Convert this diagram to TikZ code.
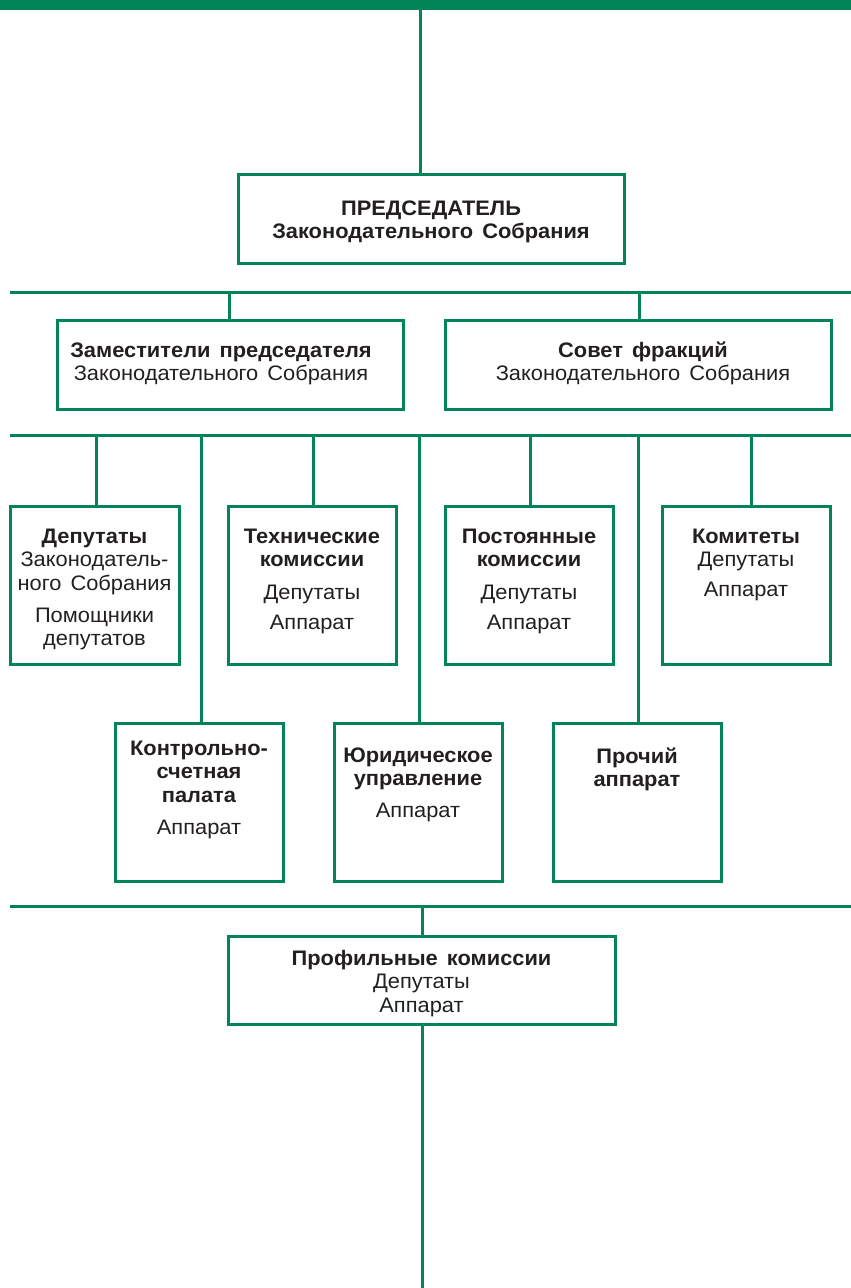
\documentclass[tikz,border=0pt]{standalone}
\usepackage{fontspec}
\setmainfont[FakeStretch=1.04, WordSpace=1.5]{Liberation Sans}
\definecolor{grn}{RGB}{0,132,88}
\definecolor{ink}{RGB}{35,31,32}
\begin{document}
\begin{tikzpicture}[x=1pt,y=-1pt,
  box/.style={draw=grn, rectangle, inner sep=0pt, line width=3pt},
  wire/.style={draw=grn, line width=3pt},
  txt/.style={inner sep=0pt, align=center, anchor=north, text=ink, font=\fontsize{21}{23.5}\selectfont}]
\useasboundingbox (0,0) rectangle (851,1288);
\fill[grn] (0,0) rectangle (851,10);

% boxes
\node[box, minimum width=386pt, minimum height=89pt] (chair) at (431,218.5) {};
\node[box, minimum width=346pt, minimum height=89pt] (dch) at (230,364.5) {};
\node[box, minimum width=386pt, minimum height=89pt] (cnc) at (638,364.5) {};
\node[box, minimum width=169pt, minimum height=158pt] (dep) at (94.5,585) {};
\node[box, minimum width=168pt, minimum height=158pt] (tech) at (312,585) {};
\node[box, minimum width=168pt, minimum height=158pt] (post) at (529,585) {};
\node[box, minimum width=168pt, minimum height=158pt] (komit) at (746,585) {};
\node[box, minimum width=168pt, minimum height=158pt] (kontr) at (199,802) {};
\node[box, minimum width=168pt, minimum height=158pt] (jur) at (418,802) {};
\node[box, minimum width=168pt, minimum height=158pt] (proch) at (637,802) {};
\node[box, minimum width=387pt, minimum height=88pt] (prof) at (421.5,980) {};

% texts
\node[txt] (chair-t) at (431,198.55) {\strut\textbf{ПРЕДСЕДАТЕЛЬ}\\\textbf{Законодательного Собрания}};
\node[txt] (dch-t) at (221,340.55) {\strut\textbf{Заместители председателя}\\Законодательного Собрания};
\node[txt] (cnc-t) at (643,340.55) {\strut\textbf{Совет фракций}\\Законодательного Собрания};
\node[txt] (dep-t) at (94.5,526.55) {\strut\textbf{Депутаты}\\Законодатель-\\ного Собрания\\[8.5pt]Помощники\\депутатов};
\node[txt] (tech-t) at (312,526.55) {\strut\textbf{Технические}\\\textbf{комиссии}\\[9pt]Депутаты\\[6.5pt]Аппарат};
\node[txt] (post-t) at (529,526.55) {\strut\textbf{Постоянные}\\\textbf{комиссии}\\[9pt]Депутаты\\[6.5pt]Аппарат};
\node[txt] (komit-t) at (746,526.55) {\strut\textbf{Комитеты}\\Депутаты\\[6.5pt]Аппарат};
\node[txt] (kontr-t) at (199,738.55) {\strut\textbf{Контрольно-}\\\textbf{счетная}\\\textbf{палата}\\[9pt]Аппарат};
\node[txt] (jur-t) at (418,745.55) {\strut\textbf{Юридическое}\\\textbf{управление}\\[8pt]Аппарат};
\node[txt] (proch-t) at (637,746.55) {\strut\textbf{Прочий}\\\textbf{аппарат}};
\node[txt] (prof-t) at (421.5,948.55) {\strut\textbf{Профильные комиссии}\\Депутаты\\Аппарат};

% top connector
\coordinate (top) at (420,10);
\draw[wire] (top) -- (top |- chair.north);

% bus 1
\coordinate (b1l) at (10,292);
\coordinate (b1r) at (851,292);
\draw[wire] (b1l) -- (b1r);
\coordinate (j11) at (229,292);
\coordinate (j12) at (639,292);
\draw[wire] (j11) -- (j11 |- dch.north);
\draw[wire] (j12) -- (j12 |- cnc.north);

% bus 2
\coordinate (b2l) at (10,435);
\coordinate (b2r) at (851,435);
\draw[wire] (b2l) -- (b2r);
\coordinate (j21) at (96,435);
\coordinate (j22) at (201,435);
\coordinate (j23) at (313,435);
\coordinate (j24) at (419,435);
\coordinate (j25) at (530,435);
\coordinate (j26) at (638,435);
\coordinate (j27) at (751,435);
\draw[wire] (j21) -- (j21 |- dep.north);
\draw[wire] (j22) -- (j22 |- kontr.north);
\draw[wire] (j23) -- (j23 |- tech.north);
\draw[wire] (j24) -- (j24 |- jur.north);
\draw[wire] (j25) -- (j25 |- post.north);
\draw[wire] (j26) -- (j26 |- proch.north);
\draw[wire] (j27) -- (j27 |- komit.north);

% bus 3
\coordinate (b3l) at (10,906);
\coordinate (b3r) at (851,906);
\draw[wire] (b3l) -- (b3r);
\coordinate (j31) at (422,906);
\draw[wire] (j31) -- (j31 |- prof.north);
\coordinate (bot) at (422,1288);
\draw[wire] (bot |- prof.south) -- (bot);
\end{tikzpicture}
\end{document}
